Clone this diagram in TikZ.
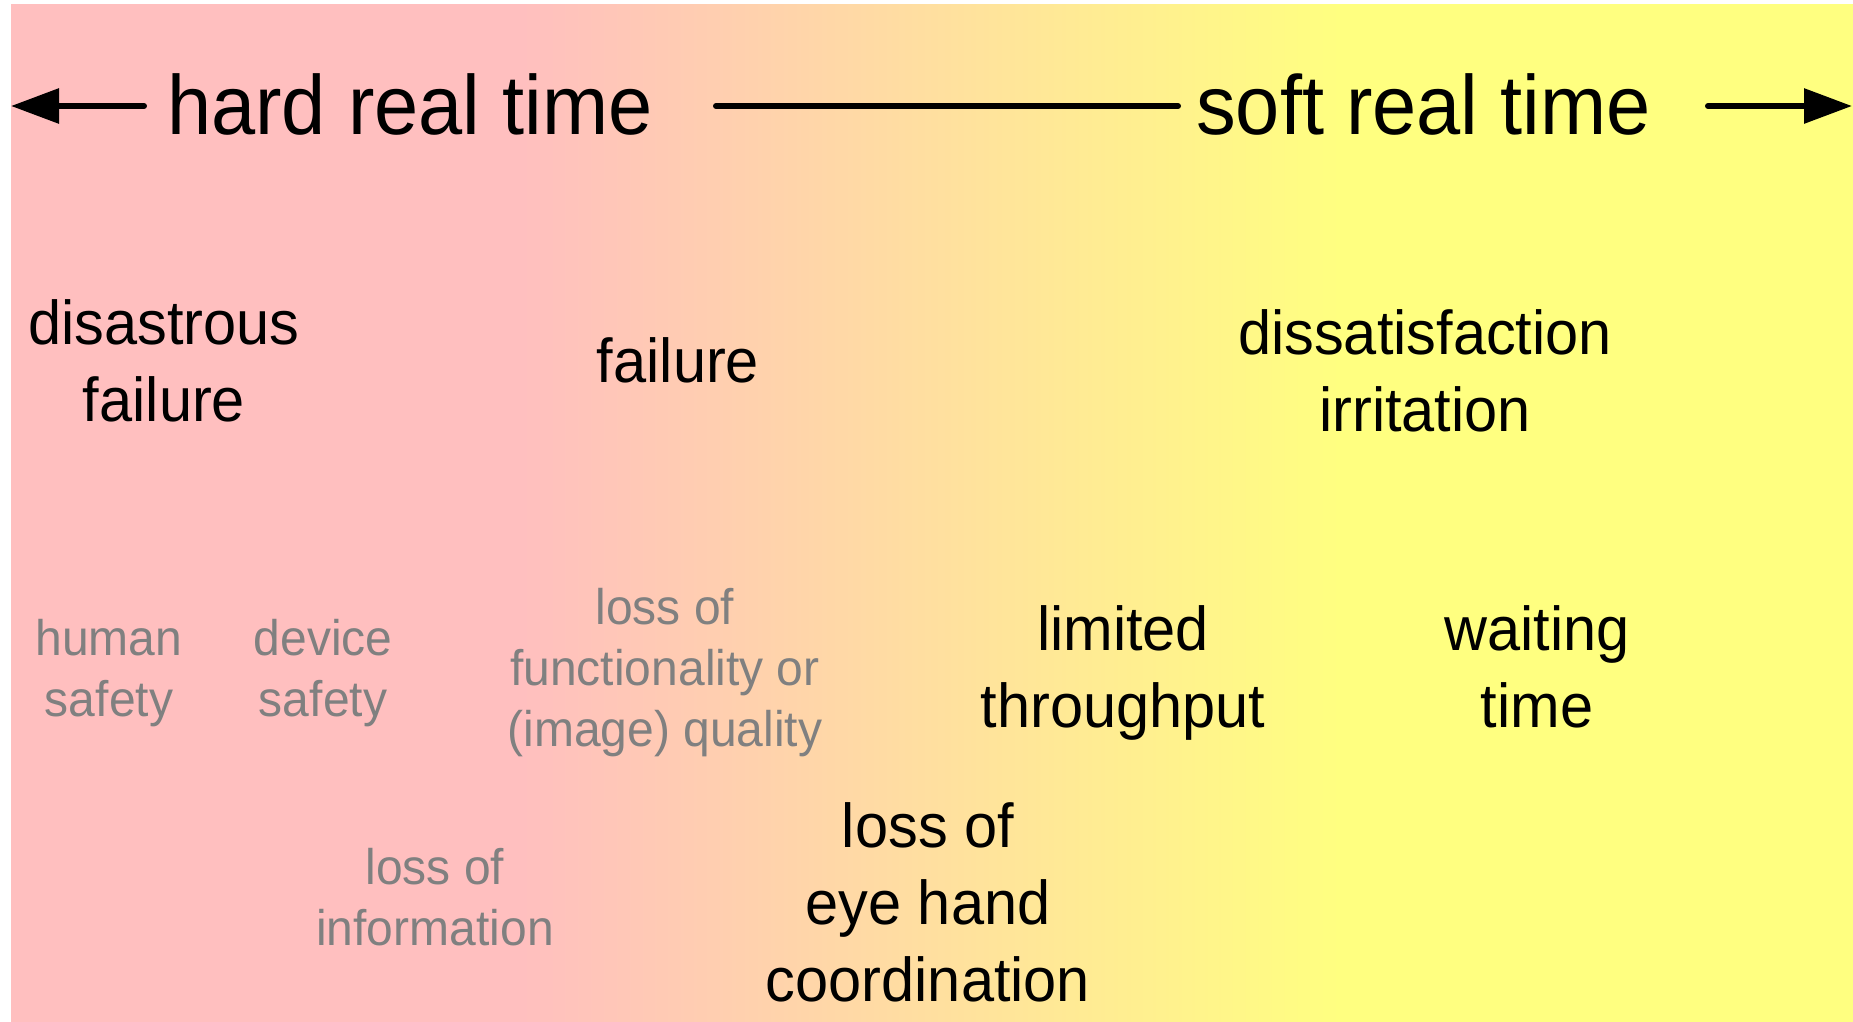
\documentclass[tikz,border=0pt]{standalone}
\usepackage{fontspec}
\setmainfont[FakeStretch=0.96]{Liberation Sans}
\newfontfamily\titlefont[FakeStretch=0.945]{Liberation Sans}
\usetikzlibrary{arrows.meta}
\definecolor{hardpink}{RGB}{255,191,191}
\definecolor{softyellow}{RGB}{255,255,128}
\definecolor{effectgray}{RGB}{128,128,128}
\begin{document}
\begin{tikzpicture}[x=1pt,y=-1pt,
  title/.style={inner sep=0pt,font=\titlefont\fontsize{84}{100}\selectfont},
  major/.style={inner sep=0pt,align=center,font=\fontsize{62}{77}\selectfont},
  minor/.style={inner sep=0pt,align=center,text=effectgray,font=\fontsize{50}{61}\selectfont},
  axis/.style={line width=6pt,line cap=round},
  tip/.style={-{Triangle[length=48pt,width=34pt]}}]
% canvas and background bands
\fill[white] (0,0) rectangle (1853,1021);
\useasboundingbox (0,0) rectangle (1853,1021);
\fill[hardpink] (11,4) rectangle (522,1030);
\shade[left color=hardpink,right color=softyellow] (520,4) rectangle (1342,1030);
\fill[softyellow] (1340,4) rectangle (1860,1030);

% axis labels
\node[title,anchor=base west] (hard) at (167,134) {hard real time};
\node[title,anchor=base west] (soft) at (1196,134) {soft real time};
\coordinate (lefttip) at (11,106);
\coordinate (righttip) at (1852,106);
\coordinate (lstart) at (144,106);
\coordinate (mstart) at (716,106);
\coordinate (mend) at (1178,106);
\coordinate (rstart) at (1708,106);
\draw[axis,tip] (lstart) -- (lefttip);
\draw[axis] (mstart) -- (mend);
\draw[axis,tip] (rstart) -- (righttip);

% consequences
\node[major] (disastrous) at (164,361) {disastrous\\failure};
\node[major] (failure) at (678,360) {failure};
\node[major] (dissatisfaction) at (1425,371) {dissatisfaction\\irritation};

% effects
\node[minor] (human) at (109,673) {human\\safety};
\node[minor] (device) at (323,673) {device\\safety};
\node[minor] (functionality) at (665,673) {loss of\\functionality or\\(image) quality};
\node[minor] (information) at (435,897) {loss of\\information};
\node[major] (throughput) at (1123,673) {limited\\throughput};
\node[major] (waiting) at (1537,667) {waiting\\time};
\node[major] (eyehand) at (928,902) {loss of\\eye hand\\coordination};
\end{tikzpicture}
\end{document}
